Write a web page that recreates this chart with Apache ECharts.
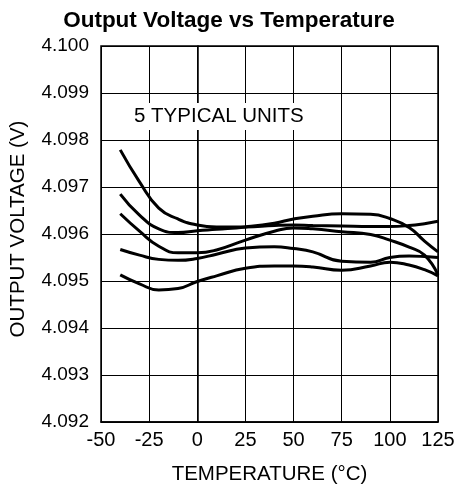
<!DOCTYPE html>
<html>
<head>
<meta charset="utf-8">
<script src="https://cdn.jsdelivr.net/npm/echarts@6/dist/echarts.min.js"></script>
<style>
  html, body { margin: 0; padding: 0; background: #fff; }
  #chart { width: 458px; height: 490px; }
</style>
</head>
<body>
<div id="chart"></div>
<script>
// temperature points (°C)
var temps = [-40, -30, -20, -10, 0, 10, 25, 40, 50, 60, 75, 90, 100, 110, 118, 125]

// output voltage (V) for each of the 5 units
var unit1 = [4.09779, 4.09711, 4.09655, 4.09632, 4.09619, 4.09615, 4.09615, 4.09618, 4.09619, 4.09618, 4.09617, 4.09616, 4.09616, 4.09618, 4.09622, 4.09627]
var unit2 = [4.09685, 4.09640, 4.09611, 4.09603, 4.09607, 4.09610, 4.09615, 4.09623, 4.09632, 4.09638, 4.09643, 4.09642, 4.09633, 4.09614, 4.09585, 4.09562]
var unit3 = [4.09643, 4.09606, 4.09574, 4.09560, 4.09560, 4.09566, 4.09587, 4.09606, 4.09613, 4.09611, 4.09605, 4.09599, 4.09587, 4.09572, 4.09555, 4.09513]
var unit4 = [4.09567, 4.09555, 4.09546, 4.09544, 4.09548, 4.09557, 4.09570, 4.09573, 4.09569, 4.09562, 4.09542, 4.09540, 4.09550, 4.09553, 4.09552, 4.09550]
var unit5 = [4.09513, 4.09494, 4.09481, 4.09484, 4.09499, 4.09511, 4.09527, 4.09532, 4.09532, 4.09530, 4.09523, 4.09532, 4.09540, 4.09534, 4.09524, 4.09511]

var units = [unit1, unit2, unit3, unit4, unit5]

var chart = echarts.init(document.getElementById('chart'))

var font = 'Liberation Sans, Arial, Helvetica, sans-serif'

chart.setOption({
  animation: false,
  backgroundColor: '#fff',
  title: [{
    text: 'Output Voltage vs Temperature',
    left: 'center',
    top: 4,
    textStyle: { fontFamily: font, fontSize: 22.5, fontWeight: 'bold', color: '#000' }
  }, {
    text: '5 TYPICAL UNITS',
    left: 128,
    top: 103,
    padding: [3, 6, 3, 6],
    backgroundColor: '#fff',
    textStyle: { fontFamily: font, fontSize: 20.5, fontWeight: 'normal', color: '#000' }
  }],
  grid: {
    left: 100,
    right: 20,
    top: 46,
    bottom: 68,
    show: true,
    borderColor: '#000',
    borderWidth: 1.5
  },
  xAxis: {
    type: 'value',
    min: -50,
    max: 125,
    interval: 25,
    name: 'TEMPERATURE (°C)',
    nameLocation: 'middle',
    nameGap: 42,
    nameTextStyle: { fontFamily: font, fontSize: 20.5, color: '#000' },
    axisLine: { show: true, lineStyle: { color: '#000', width: 1.5 } },
    axisTick: { show: false },
    axisLabel: { fontFamily: font, fontSize: 20, color: '#000', margin: 8 },
    splitLine: { show: true, lineStyle: { color: '#000', width: 1 } }
  },
  yAxis: {
    type: 'value',
    min: 4.092,
    max: 4.100,
    interval: 0.001,
    name: 'OUTPUT VOLTAGE (V)',
    nameLocation: 'middle',
    nameGap: 72,
    nameTextStyle: { fontFamily: font, fontSize: 20.5, color: '#000', padding: [0, 0, 0, 10] },
    axisLine: { show: true, lineStyle: { color: '#000', width: 1.5 } },
    axisTick: { show: false },
    axisLabel: {
      fontFamily: font, fontSize: 19, color: '#000', margin: 12,
      formatter: function (v) { return v.toFixed(3) }
    },
    splitLine: { show: true, lineStyle: { color: '#000', width: 1 } }
  },
  series: units.map(function (u, k) {
    return {
      name: 'Unit ' + (k + 1),
      type: 'line',
      smooth: 0.5,
      showSymbol: false,
      lineStyle: { color: '#000', width: 3 },
      data: temps.map(function (t, i) { return [t, u[i]] })
    }
  })
})
</script>
</body>
</html>
